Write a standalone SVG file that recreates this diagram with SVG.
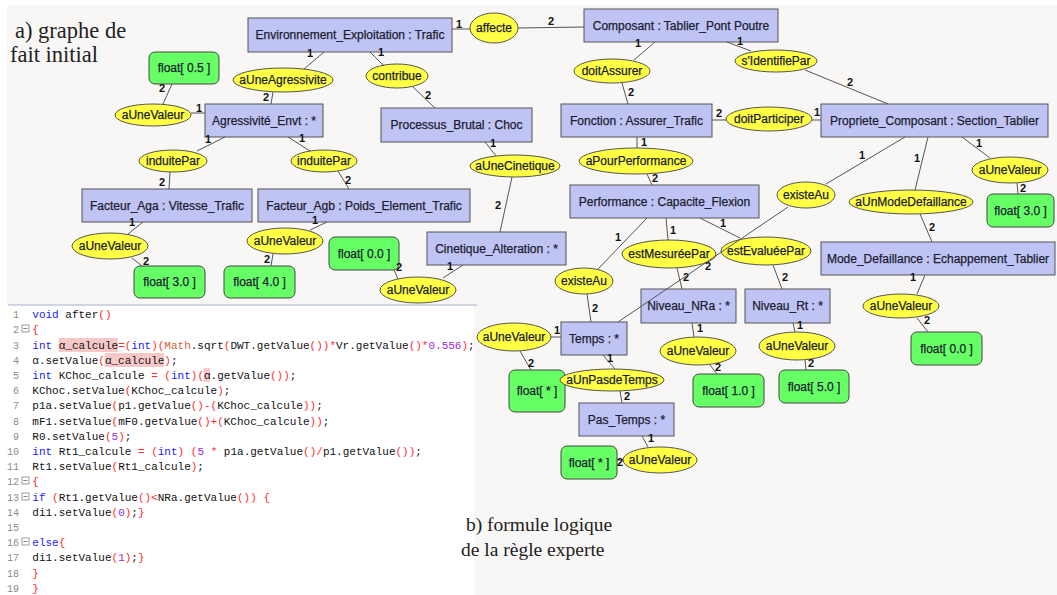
<svg xmlns="http://www.w3.org/2000/svg" width="1057" height="595" viewBox="0 0 1057 595">
<style>
.bg{fill:#f8f7f6}
.cls rect{fill:#c0c4f4;stroke:#555;stroke-width:1}
.lit rect{fill:#66ff66;stroke:#444;stroke-width:1}
.rel ellipse{fill:#ffff44;stroke:#555;stroke-width:1}
.nt{font-family:"Liberation Sans",Arial,sans-serif;font-size:12px;fill:#1c1c30;text-anchor:middle;stroke:#1c1c30;stroke-width:0.25}
.edges line{stroke:#555;stroke-width:1}
.lbl{font-family:"Liberation Sans",Arial,sans-serif;font-size:11px;font-weight:bold;fill:#111;text-anchor:middle}
.title{font-family:"Liberation Serif","Times New Roman",serif;fill:#222}
.code{font-family:"Liberation Mono","Courier New",monospace;font-size:11px;fill:#111;white-space:pre}
.ln{font-family:"Liberation Mono","Courier New",monospace;font-size:10px;fill:#8a8a8a}
.k{fill:#1a1aff}.r{fill:#ff2a2a}.n{fill:#9a2ad8}.m{fill:#d8603c}
.fold{fill:#fff;stroke:#888;stroke-width:0.8}
.hl{fill:#f7c8c8}
</style>
<rect x="0" y="0" width="1057" height="595" fill="#ffffff"/>
<rect class="bg" x="7" y="5" width="1050" height="590"/>
<rect x="0" y="305" width="474" height="290" fill="#ffffff"/>
<line x1="8" y1="305" x2="477" y2="305" stroke="#c0c8d8" stroke-width="1.5"/>

<text class="title" x="15" y="38" font-size="22.5">a) graphe de</text>
<text class="title" x="10" y="62" font-size="22.5">fait initial</text>
<text class="title" x="466" y="531" font-size="19.5">b) formule logique</text>
<text class="title" x="461" y="556" font-size="19.5">de la règle experte</text>

<g id="nodes">
<g id="n-env" class="cls"><rect x="248" y="18" width="204" height="34"/><text class="nt" x="350" y="39">Environnement_Exploitation : Trafic</text></g>
<g id="n-composant" class="cls"><rect x="584" y="9" width="194" height="33"/><text class="nt" x="681" y="30">Composant : Tablier_Pont Poutre</text></g>
<g id="n-agress" class="cls"><rect x="205" y="104" width="118" height="33"/><text class="nt" x="264" y="125">Agressivité_Envt : *</text></g>
<g id="n-processus" class="cls"><rect x="381" y="108" width="151" height="34"/><text class="nt" x="456.5" y="129">Processus_Brutal : Choc</text></g>
<g id="n-fonction" class="cls"><rect x="561" y="104" width="151" height="33"/><text class="nt" x="636.5" y="125">Fonction : Assurer_Trafic</text></g>
<g id="n-propriete" class="cls"><rect x="821" y="104" width="227" height="33"/><text class="nt" x="934.5" y="125">Propriete_Composant : Section_Tablier</text></g>
<g id="n-aga" class="cls"><rect x="82" y="189" width="170" height="33"/><text class="nt" x="167" y="210">Facteur_Aga : Vitesse_Trafic</text></g>
<g id="n-agb" class="cls"><rect x="258" y="189" width="212" height="33"/><text class="nt" x="364" y="210">Facteur_Agb : Poids_Element_Trafic</text></g>
<g id="n-cinetique" class="cls"><rect x="427" y="232" width="139" height="33"/><text class="nt" x="496.5" y="253">Cinetique_Alteration : *</text></g>
<g id="n-perf" class="cls"><rect x="570" y="185" width="189" height="33"/><text class="nt" x="664.5" y="206">Performance : Capacite_Flexion</text></g>
<g id="n-mode" class="cls"><rect x="821" y="242" width="234" height="33"/><text class="nt" x="938" y="263">Mode_Defaillance : Echappement_Tablier</text></g>
<g id="n-nra" class="cls"><rect x="641" y="289" width="95" height="34"/><text class="nt" x="688.5" y="310">Niveau_NRa : *</text></g>
<g id="n-rt" class="cls"><rect x="745" y="289" width="85" height="34"/><text class="nt" x="787.5" y="310">Niveau_Rt : *</text></g>
<g id="n-temps" class="cls"><rect x="561" y="322" width="66" height="33"/><text class="nt" x="594" y="343">Temps : *</text></g>
<g id="n-pas" class="cls"><rect x="579" y="403" width="95" height="33"/><text class="nt" x="626.5" y="424">Pas_Temps : *</text></g>

<g id="v-05" class="lit"><rect x="149" y="52" width="70" height="32" rx="6"/><text class="nt" x="184" y="72">float[ 0.5 ]</text></g>
<g id="v-30a" class="lit"><rect x="134" y="266" width="71" height="32" rx="6"/><text class="nt" x="169.5" y="286">float[ 3.0 ]</text></g>
<g id="v-40" class="lit"><rect x="224" y="266" width="71" height="32" rx="6"/><text class="nt" x="259.5" y="286">float[ 4.0 ]</text></g>
<g id="v-00a" class="lit"><rect x="329" y="237" width="70" height="33" rx="6"/><text class="nt" x="364" y="258">float[ 0.0 ]</text></g>
<g id="v-30b" class="lit"><rect x="987" y="194" width="67" height="33" rx="6"/><text class="nt" x="1020.5" y="215">float[ 3.0 ]</text></g>
<g id="v-00b" class="lit"><rect x="911" y="332" width="71" height="33" rx="6"/><text class="nt" x="946.5" y="353">float[ 0.0 ]</text></g>
<g id="v-10" class="lit"><rect x="693" y="374" width="71" height="33" rx="6"/><text class="nt" x="728.5" y="395">float[ 1.0 ]</text></g>
<g id="v-50" class="lit"><rect x="779" y="370" width="70" height="33" rx="6"/><text class="nt" x="814" y="391">float[ 5.0 ]</text></g>
<g id="v-stara" class="lit"><rect x="509" y="370" width="56" height="42" rx="6"/><text class="nt" x="537" y="395">float[ * ]</text></g>
<g id="v-starb" class="lit"><rect x="561" y="446" width="56" height="33" rx="6"/><text class="nt" x="589" y="467">float[ * ]</text></g>

<g id="r-affecte" class="rel"><ellipse cx="494" cy="28" rx="24" ry="15"/><text class="nt" x="494" y="32">affecte</text></g>
<g id="r-agress" class="rel"><ellipse cx="283" cy="80" rx="50" ry="12"/><text class="nt" x="283" y="84">aUneAgressivite</text></g>
<g id="r-contribue" class="rel"><ellipse cx="397" cy="76" rx="31" ry="12"/><text class="nt" x="397" y="80">contribue</text></g>
<g id="r-val05" class="rel"><ellipse cx="153" cy="115" rx="38" ry="11"/><text class="nt" x="153" y="119">aUneValeur</text></g>
<g id="r-doitassurer" class="rel"><ellipse cx="612" cy="71" rx="38" ry="12"/><text class="nt" x="612" y="75">doitAssurer</text></g>
<g id="r-identifie" class="rel"><ellipse cx="776" cy="61" rx="41" ry="11"/><text class="nt" x="776" y="65">s'IdentifiePar</text></g>
<g id="r-participer" class="rel"><ellipse cx="769" cy="119" rx="43" ry="12"/><text class="nt" x="769" y="123">doitParticiper</text></g>
<g id="r-induite1" class="rel"><ellipse cx="173" cy="161" rx="34" ry="11"/><text class="nt" x="173" y="165">induitePar</text></g>
<g id="r-induite2" class="rel"><ellipse cx="324" cy="161" rx="33" ry="11"/><text class="nt" x="324" y="165">induitePar</text></g>
<g id="r-cinetique" class="rel"><ellipse cx="515" cy="166" rx="45" ry="11"/><text class="nt" x="515" y="170">aUneCinetique</text></g>
<g id="r-pourperf" class="rel"><ellipse cx="636" cy="161" rx="57" ry="13"/><text class="nt" x="636" y="165">aPourPerformance</text></g>
<g id="r-valaga" class="rel"><ellipse cx="110" cy="246" rx="38" ry="13"/><text class="nt" x="110" y="250">aUneValeur</text></g>
<g id="r-valagb" class="rel"><ellipse cx="285" cy="241" rx="38" ry="13"/><text class="nt" x="285" y="245">aUneValeur</text></g>
<g id="r-valcin" class="rel"><ellipse cx="418" cy="290" rx="38" ry="13"/><text class="nt" x="418" y="294">aUneValeur</text></g>
<g id="r-existe2" class="rel"><ellipse cx="806" cy="195" rx="29" ry="13"/><text class="nt" x="806" y="199">existeAu</text></g>
<g id="r-mode" class="rel"><ellipse cx="911" cy="202" rx="62" ry="12"/><text class="nt" x="911" y="206">aUnModeDefaillance</text></g>
<g id="r-valprop" class="rel"><ellipse cx="1010" cy="170" rx="38" ry="13"/><text class="nt" x="1010" y="174">aUneValeur</text></g>
<g id="r-mesuree" class="rel"><ellipse cx="669" cy="254" rx="47" ry="14"/><text class="nt" x="669" y="258">estMesuréePar</text></g>
<g id="r-evaluee" class="rel"><ellipse cx="766" cy="251" rx="45" ry="14"/><text class="nt" x="766" y="255">estEvaluéePar</text></g>
<g id="r-existe1" class="rel"><ellipse cx="584" cy="281" rx="29" ry="13"/><text class="nt" x="584" y="285">existeAu</text></g>
<g id="r-valmode" class="rel"><ellipse cx="901" cy="306" rx="38" ry="12"/><text class="nt" x="901" y="310">aUneValeur</text></g>
<g id="r-valtemps" class="rel"><ellipse cx="514" cy="337" rx="37" ry="14"/><text class="nt" x="514" y="341">aUneValeur</text></g>
<g id="r-pasdetemps" class="rel"><ellipse cx="612" cy="380" rx="52" ry="11"/><text class="nt" x="612" y="384">aUnPasdeTemps</text></g>
<g id="r-valnra" class="rel"><ellipse cx="698" cy="351" rx="38" ry="14"/><text class="nt" x="698" y="355">aUneValeur</text></g>
<g id="r-valrt" class="rel"><ellipse cx="797" cy="346" rx="38" ry="14"/><text class="nt" x="797" y="350">aUneValeur</text></g>
<g id="r-valpas" class="rel"><ellipse cx="660" cy="460" rx="37" ry="13"/><text class="nt" x="660" y="464">aUneValeur</text></g>
</g>

<g id="connectors" class="edges">
<line x1="452" y1="29" x2="470" y2="29"/><text class="lbl" x="459" y="28">1</text>
<line x1="518" y1="28" x2="584" y2="27"/><text class="lbl" x="551" y="25">2</text>
<line x1="324" y1="52" x2="304" y2="69"/><text class="lbl" x="310" y="57">1</text>
<line x1="273" y1="92" x2="271" y2="104"/><text class="lbl" x="266" y="101">2</text>
<line x1="370" y1="52" x2="384" y2="66"/><text class="lbl" x="381" y="56">1</text>
<line x1="413" y1="87" x2="435" y2="108"/><text class="lbl" x="428" y="99">2</text>
<line x1="655" y1="42" x2="634" y2="60"/><text class="lbl" x="638" y="47">1</text>
<line x1="622" y1="83" x2="628" y2="104"/><text class="lbl" x="631" y="96">2</text>
<line x1="727" y1="42" x2="751" y2="51"/><text class="lbl" x="740" y="45">1</text>
<line x1="805" y1="70" x2="888" y2="104"/><text class="lbl" x="850" y="86">2</text>
<line x1="712" y1="120" x2="726" y2="120"/><text class="lbl" x="719" y="117">2</text>
<line x1="812" y1="120" x2="821" y2="120"/><text class="lbl" x="817" y="116">1</text>
<line x1="205" y1="113" x2="191" y2="113"/><text class="lbl" x="199" y="112">1</text>
<line x1="163" y1="104" x2="172" y2="84"/><text class="lbl" x="162" y="92">2</text>
<line x1="225" y1="137" x2="197" y2="151"/><text class="lbl" x="208" y="143">1</text>
<line x1="170" y1="172" x2="169" y2="189"/><text class="lbl" x="162" y="186">2</text>
<line x1="288" y1="137" x2="310" y2="151"/><text class="lbl" x="302" y="142">1</text>
<line x1="338" y1="171" x2="349" y2="189"/><text class="lbl" x="348" y="184">2</text>
<line x1="143" y1="222" x2="128" y2="234"/><text class="lbl" x="132" y="226">1</text>
<line x1="132" y1="258" x2="142" y2="266"/><text class="lbl" x="146" y="265">2</text>
<line x1="327" y1="222" x2="310" y2="230"/><text class="lbl" x="315" y="224">1</text>
<line x1="273" y1="254" x2="271" y2="266"/><text class="lbl" x="267" y="263">2</text>
<line x1="485" y1="142" x2="496" y2="156"/><text class="lbl" x="493" y="147">1</text>
<line x1="512" y1="177" x2="500" y2="232"/><text class="lbl" x="498" y="209">2</text>
<line x1="463" y1="265" x2="443" y2="278"/><text class="lbl" x="450" y="270">1</text>
<line x1="398" y1="279" x2="394" y2="270"/><text class="lbl" x="399" y="271">2</text>
<line x1="637" y1="137" x2="637" y2="148"/><text class="lbl" x="644" y="146">1</text>
<line x1="647" y1="174" x2="652" y2="185"/><text class="lbl" x="655" y="182">2</text>
<line x1="647" y1="218" x2="598" y2="269"/><text class="lbl" x="618" y="241">1</text>
<line x1="587" y1="294" x2="591" y2="322"/><text class="lbl" x="595" y="312">2</text>
<line x1="666" y1="218" x2="668" y2="240"/><text class="lbl" x="673" y="234">1</text>
<line x1="677" y1="268" x2="682" y2="289"/><text class="lbl" x="686" y="281">2</text>
<line x1="700" y1="218" x2="740" y2="238"/><text class="lbl" x="723" y="227">1</text>
<line x1="773" y1="265" x2="782" y2="289"/><text class="lbl" x="785" y="281">2</text>
<line x1="905" y1="137" x2="826" y2="184"/><text class="lbl" x="862" y="159">1</text>
<line x1="788" y1="207" x2="618" y2="322"/><text class="lbl" x="708" y="270">2</text>
<line x1="928" y1="137" x2="915" y2="190"/><text class="lbl" x="917" y="162">1</text>
<line x1="920" y1="214" x2="932" y2="242"/><text class="lbl" x="932" y="231">2</text>
<line x1="962" y1="137" x2="990" y2="158"/><text class="lbl" x="979" y="147">1</text>
<line x1="1017" y1="183" x2="1018" y2="194"/><text class="lbl" x="1023" y="192">2</text>
<line x1="925" y1="275" x2="917" y2="294"/><text class="lbl" x="913" y="281">1</text>
<line x1="917" y1="318" x2="928" y2="332"/><text class="lbl" x="927" y="324">2</text>
<line x1="551" y1="337" x2="561" y2="337"/><text class="lbl" x="557" y="334">1</text>
<line x1="520" y1="351" x2="531" y2="370"/><text class="lbl" x="531" y="367">2</text>
<line x1="603" y1="355" x2="615" y2="369"/><text class="lbl" x="610" y="362">1</text>
<line x1="620" y1="391" x2="622" y2="403"/><text class="lbl" x="627" y="400">2</text>
<line x1="692" y1="323" x2="694" y2="337"/><text class="lbl" x="700" y="332">1</text>
<line x1="710" y1="365" x2="717" y2="374"/><text class="lbl" x="718" y="371">2</text>
<line x1="793" y1="323" x2="795" y2="332"/><text class="lbl" x="800" y="329">1</text>
<line x1="805" y1="360" x2="806" y2="370"/><text class="lbl" x="811" y="367">2</text>
<line x1="642" y1="436" x2="648" y2="447"/><text class="lbl" x="651" y="442">1</text>
<line x1="617" y1="460" x2="623" y2="460"/><text class="lbl" x="620" y="466">2</text>
</g>

<g id="code">
<rect class="hl" x="58.6" y="338" width="59.2" height="14"/>
<rect class="hl" x="104.7" y="353" width="59.2" height="14"/>
<rect class="hl" x="203.4" y="368" width="6.6" height="14"/>
<g class="ln">
<text x="13" y="318">1</text><text x="13" y="333">2</text><text x="13" y="349">3</text><text x="13" y="364">4</text><text x="13" y="379">5</text><text x="13" y="394">6</text><text x="13" y="409">7</text><text x="13" y="425">8</text><text x="13" y="440">9</text>
<text x="7" y="455">10</text><text x="7" y="470">11</text><text x="7" y="485">12</text><text x="7" y="501">13</text><text x="7" y="516">14</text><text x="7" y="531">15</text><text x="7" y="546">16</text><text x="7" y="561">17</text><text x="7" y="577">18</text><text x="7" y="592">19</text>
</g>
<g id="folds">
<rect class="fold" x="22" y="325" width="7" height="7"/><line x1="23.5" y1="328.5" x2="27.5" y2="328.5" stroke="#666" stroke-width="0.8"/>
<rect class="fold" x="22" y="477" width="7" height="7"/><line x1="23.5" y1="480.5" x2="27.5" y2="480.5" stroke="#666" stroke-width="0.8"/>
<rect class="fold" x="22" y="493" width="7" height="7"/><line x1="23.5" y1="496.5" x2="27.5" y2="496.5" stroke="#666" stroke-width="0.8"/>
<rect class="fold" x="22" y="538" width="7" height="7"/><line x1="23.5" y1="541.5" x2="27.5" y2="541.5" stroke="#666" stroke-width="0.8"/>
</g>
<g class="code">
<text x="32.3" y="318"><tspan class="k">void</tspan> after<tspan class="r">()</tspan></text>
<text x="32.3" y="333"><tspan class="r">{</tspan></text>
<text x="32.3" y="349"><tspan class="k">int</tspan> α_calcule<tspan class="r">=(</tspan><tspan class="k">int</tspan><tspan class="r">)(</tspan><tspan class="m">Math</tspan>.sqrt<tspan class="r">(</tspan>DWT.getValue<tspan class="r">())*</tspan>Vr.getValue<tspan class="r">()*</tspan><tspan class="n">0.556</tspan><tspan class="r">)</tspan>;</text>
<text x="32.3" y="364">α.setValue<tspan class="r">(</tspan>α_calcule<tspan class="r">)</tspan>;</text>
<text x="32.3" y="379"><tspan class="k">int</tspan> KChoc_calcule <tspan class="r">=</tspan> <tspan class="r">(</tspan><tspan class="k">int</tspan><tspan class="r">)(</tspan>α.getValue<tspan class="r">())</tspan>;</text>
<text x="32.3" y="394">KChoc.setValue<tspan class="r">(</tspan>KChoc_calcule<tspan class="r">)</tspan>;</text>
<text x="32.3" y="409">p1a.setValue<tspan class="r">(</tspan>p1.getValue<tspan class="r">()-(</tspan>KChoc_calcule<tspan class="r">))</tspan>;</text>
<text x="32.3" y="425">mF1.setValue<tspan class="r">(</tspan>mF0.getValue<tspan class="r">()+(</tspan>KChoc_calcule<tspan class="r">))</tspan>;</text>
<text x="32.3" y="440">R0.setValue<tspan class="r">(</tspan><tspan class="n">5</tspan><tspan class="r">)</tspan>;</text>
<text x="32.3" y="455"><tspan class="k">int</tspan> Rt1_calcule <tspan class="r">=</tspan> <tspan class="r">(</tspan><tspan class="k">int</tspan><tspan class="r">)</tspan> <tspan class="r">(</tspan><tspan class="n">5</tspan> <tspan class="r">*</tspan> p1a.getValue<tspan class="r">()/</tspan>p1.getValue<tspan class="r">())</tspan>;</text>
<text x="32.3" y="470">Rt1.setValue<tspan class="r">(</tspan>Rt1_calcule<tspan class="r">)</tspan>;</text>
<text x="32.3" y="485"><tspan class="r">{</tspan></text>
<text x="32.3" y="501"><tspan class="k">if</tspan> <tspan class="r">(</tspan>Rt1.getValue<tspan class="r">()&lt;</tspan>NRa.getValue<tspan class="r">())</tspan> <tspan class="r">{</tspan></text>
<text x="32.3" y="516">di1.setValue<tspan class="r">(</tspan><tspan class="n">0</tspan><tspan class="r">)</tspan>;<tspan class="r">}</tspan></text>
<text x="32.3" y="546"><tspan class="k">else</tspan><tspan class="r">{</tspan></text>
<text x="32.3" y="561">di1.setValue<tspan class="r">(</tspan><tspan class="n">1</tspan><tspan class="r">)</tspan>;<tspan class="r">}</tspan></text>
<text x="32.3" y="577"><tspan class="r">}</tspan></text>
<text x="32.3" y="592"><tspan class="r">}</tspan></text>
</g>
</g>
</svg>
